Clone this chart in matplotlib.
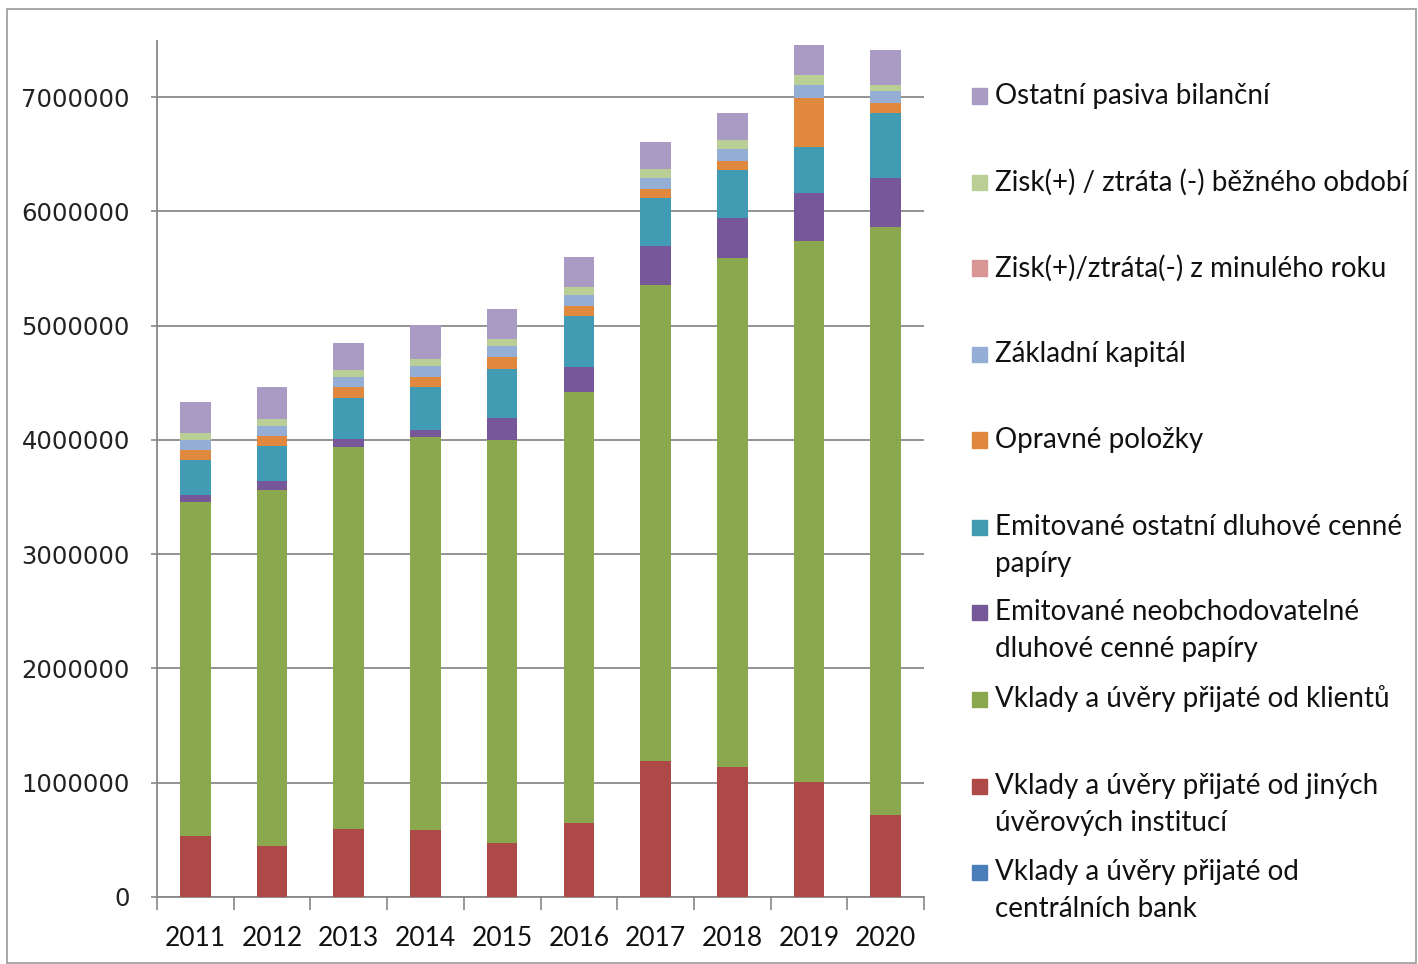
import numpy as np
import matplotlib.pyplot as plt
from matplotlib.patches import Rectangle

years = ["2011", "2012", "2013", "2014", "2015", "2016", "2017", "2018", "2019", "2020"]

# values in thousands, stacked from the bottom up
centralni_banky = [0, 0, 0, 0, 0, 0, 0, 0, 0, 0]
jine_instituce = [535, 446, 595, 586, 469, 645, 1190, 1139, 1003, 718]
klienti = [2921, 3115, 3342, 3436, 3530, 3771, 4165, 4449, 4737, 5147]
neobchodovatelne = [61, 79, 70, 64, 194, 225, 344, 356, 420, 423]
ostatni_cp = [307, 308, 362, 376, 429, 443, 417, 417, 405, 574]
opravne = [87, 88, 90, 88, 105, 84, 81, 81, 423, 82]
zakladni_kapital = [88, 85, 91, 98, 94, 96, 93, 105, 117, 111]
zisk_minuly = [0, 0, 0, 0, 0, 0, 0, 0, 0, 0]
zisk_bezny = [64, 61, 63, 61, 64, 76, 76, 75, 88, 50]
ostatni_pasiva = [265, 283, 232, 296, 257, 262, 243, 235, 259, 306]

series = [centralni_banky, jine_instituce, klienti, neobchodovatelne, ostatni_cp,
          opravne, zakladni_kapital, zisk_minuly, zisk_bezny, ostatni_pasiva]
labels = ["Vklady a úvěry přijaté od\ncentrálních bank",
          "Vklady a úvěry přijaté od jiných\núvěrových institucí",
          "Vklady a úvěry přijaté od klientů",
          "Emitované neobchodovatelné\ndluhové cenné papíry",
          "Emitované ostatní dluhové cenné\npapíry",
          "Opravné položky",
          "Základní kapitál",
          "Zisk(+)/ztráta(-) z minulého roku",
          "Zisk(+) / ztráta (-) běžného období",
          "Ostatní pasiva bilanční"]
colors = ["#4a7ebb", "#ad4a47", "#8ca84f", "#76589a", "#409bb3",
          "#e0883e", "#94aed6", "#d99694", "#bacf96", "#a99bc3"]

W, H = 1418, 964
fig = plt.figure(figsize=(W / 100, H / 100), dpi=100, facecolor="white")
ax = fig.add_axes([157 / W, 1 - 897 / H, (924 - 157) / W, (897 - 41) / H])

x = np.arange(len(years))
bottom = np.zeros(len(years))
for vals, col in zip(series, colors):
    v = np.array(vals) * 1000.0
    ax.bar(x, v, 0.4, bottom=bottom, color=col, zorder=3)
    bottom += v

ax.set_xlim(-0.5, len(years) - 0.5)
ax.set_ylim(0, 7490000)
ax.set_yticks(np.arange(0, 7000001, 1000000))
ax.set_yticklabels([str(t) for t in range(0, 7000001, 1000000)],
                   fontsize=17.5, family="DejaVu Sans", color="#222222")
ax.set_xticks(x)
ax.set_xticklabels(years, fontsize=19, family="Lato", color="#111111")
ax.set_xticks(np.arange(-0.5, len(years)), minor=True)
ax.tick_params(axis="x", which="major", length=0, pad=21)
ax.tick_params(axis="x", which="minor", length=9, color="#888888", width=1.2)
ax.tick_params(axis="y", length=4.5, color="#888888", width=1.2, pad=15)

ax.grid(axis="y", color="#8a8a8a", linewidth=1.3, zorder=0)
for s in ["top", "right"]:
    ax.spines[s].set_visible(False)
for s in ["left", "bottom"]:
    ax.spines[s].set_color("#888888")
    ax.spines[s].set_linewidth(1.3)

# legend drawn by hand to follow the uneven spacing of the original
legend_y = [872, 786, 699, 612, 527, 440, 354, 268, 182, 96]
for lab, col, yy in zip(labels, colors, legend_y):
    fig.patches.append(Rectangle((972 / W, 1 - (yy + 7.5) / H), 15 / W, 15 / H,
                                 transform=fig.transFigure, color=col))
    for i, line in enumerate(lab.split("\n")):
        fig.text(995 / W, 1 - (yy + 37 * i) / H, line, fontsize=20, family="Lato",
                 va="center", ha="left", color="#111111")

# thin frame around the whole chart
fig.patches.append(Rectangle((7 / W, 1 / H), (W - 9) / W, (H - 10) / H,
                             transform=fig.transFigure, fill=False,
                             edgecolor="#9a9a9a", linewidth=1.2))

fig.savefig("out.png", dpi=100, facecolor="white")
